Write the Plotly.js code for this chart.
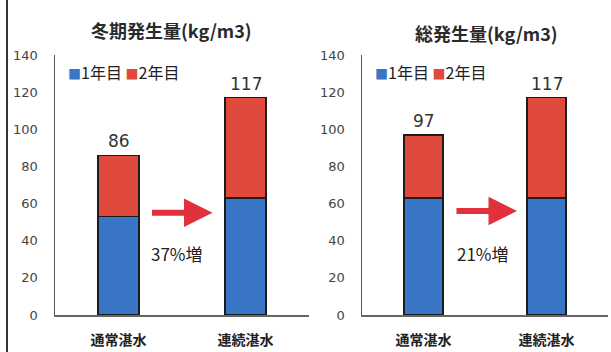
<!DOCTYPE html>
<html>
<head>
<meta charset="utf-8">
<script src="https://cdn.plot.ly/plotly-3.0.1.min.js"></script>
<style>
  html, body { margin: 0; padding: 0; background: #ffffff; }
  #chart { width: 611px; height: 352px; }
</style>
</head>
<body>
<div id="chart"></div>
<script>
// Irrigation method categories
const categories = ['通常湛水', '連続湛水'];
const seriesNames = ['1年目', '2年目'];

// Winter generation (kg/m3): first-year part and stated totals
const winterYear1 = [53, 63];
const winterTotal = [86, 117];

// Total generation (kg/m3): first-year part and stated totals
const overallYear1 = [63, 63];
const overallTotal = [97, 117];

const panelTitles = ['冬期発生量(kg/m3)', '総発生量(kg/m3)'];
const increaseLabels = ['37%増', '21%増'];
const yTickValues = [0, 20, 40, 60, 80, 100, 120, 140];

// Second-year part is what remains of each total
const winterYear2 = winterTotal.map((t, i) => t - winterYear1[i]);
const overallYear2 = overallTotal.map((t, i) => t - overallYear1[i]);

const BLUE = '#3a76c6';
const RED = '#df4a3c';
const OUTLINE = '#1c1c1c';
const CJK = '"Noto Sans CJK JP", "Noto Sans", sans-serif';

function barTrace(x, y, color, name, xa, ya) {
  return {
    type: 'bar', x: x, y: y, name: name,
    xaxis: xa, yaxis: ya,
    marker: { color: color, line: { color: OUTLINE, width: 1.5 } },
    hoverinfo: 'skip', showlegend: false
  };
}

const traces = [
  barTrace(categories, winterYear1, BLUE, seriesNames[0], 'x', 'y'),
  barTrace(categories, winterYear2, RED, seriesNames[1], 'x', 'y'),
  barTrace(categories, overallYear1, BLUE, seriesNames[0], 'x2', 'y2'),
  barTrace(categories, overallYear2, RED, seriesNames[1], 'x2', 'y2')
];

const yDomain = [37 / 352, 297 / 352];

function yAxis(anchor) {
  return {
    anchor: anchor, domain: yDomain, range: [0, 140],
    tickvals: yTickValues, showgrid: false, zeroline: false,
    showline: true, linecolor: '#5a5a5a', linewidth: 1.5,
    ticks: '', ticklabelstandoff: 13,
    tickfont: { family: '"DejaVu Sans", sans-serif', size: 13, color: '#444' }
  };
}

function xAxis(anchor, domain) {
  return {
    anchor: anchor, domain: domain, range: [-0.5, 1.5],
    showgrid: false, zeroline: false,
    showline: true, linecolor: '#666', linewidth: 2,
    ticks: '', ticklabelstandoff: 11,
    tickfont: { family: CJK, size: 14, color: '#222', weight: 'bold' }
  };
}

// Legend row drawn as text with coloured square glyphs
function legendText() {
  return '<span style="color:' + BLUE + ';font-size:13px">■</span>' + seriesNames[0] +
         '&nbsp;<span style="color:' + RED + ';font-size:13px">■</span>' + seriesNames[1];
}

const annotations = [];

// Panel titles
[[171, 30], [486, 33]].forEach((p, i) => {
  annotations.push({
    xref: 'paper', yref: 'paper', x: p[0] / 611, y: (352 - p[1]) / 352,
    xanchor: 'center', yanchor: 'middle', showarrow: false,
    text: panelTitles[i],
    font: { family: CJK, size: 18, color: '#2a2a2a', weight: 'bold' }
  });
});

// Legends
[66, 373].forEach(px => {
  annotations.push({
    xref: 'paper', yref: 'paper', x: px / 611, y: (352 - 72) / 352,
    xanchor: 'left', yanchor: 'middle', showarrow: false,
    text: legendText(),
    font: { family: CJK, size: 16, color: '#222' }
  });
});

// Totals above each stacked bar
[['x', 'y', winterTotal], ['x2', 'y2', overallTotal]].forEach(([xa, ya, totals]) => {
  categories.forEach((c, i) => {
    annotations.push({
      xref: xa, yref: ya, x: c, y: totals[i],
      xanchor: 'center', yanchor: 'bottom', yshift: 2, showarrow: false,
      text: String(totals[i]),
      font: { family: '"DejaVu Sans", sans-serif', size: 17, color: '#333' }
    });
  });
});

// Increase arrows and their labels
[['x', 'y', 0.74, 55, 0.46], ['x2', 'y2', 0.76, 56, 0.48]].forEach(([xa, ya, hx, hy, tx], i) => {
  annotations.push({
    xref: xa, yref: ya, x: hx, y: hy, ax: -62, ay: 0,
    showarrow: true, arrowhead: 2, arrowsize: 0.95, arrowwidth: 6,
    arrowcolor: '#e2303c', text: ''
  });
  annotations.push({
    xref: xa, yref: ya, x: tx, y: 33,
    xanchor: 'center', yanchor: 'middle', showarrow: false,
    text: increaseLabels[i],
    font: { family: CJK, size: 17, color: '#222' }
  });
});

const layout = {
  width: 611, height: 352,
  margin: { l: 0, r: 0, t: 0, b: 0 },
  paper_bgcolor: '#ffffff', plot_bgcolor: '#ffffff',
  barmode: 'stack', bargap: 0.68,
  showlegend: false,
  xaxis: xAxis('y', [55 / 611, 309 / 611]),
  yaxis: yAxis('x'),
  xaxis2: xAxis('y2', [362 / 611, 608 / 611]),
  yaxis2: yAxis('x2'),
  annotations: annotations,
  shapes: [
    { type: 'line', xref: 'paper', yref: 'paper', x0: 7 / 611, x1: 7 / 611, y0: 0, y1: 1,
      line: { color: '#333', width: 2 } }
  ]
};

Plotly.newPlot('chart', traces, layout, { staticPlot: true, displayModeBar: false });
</script>
</body>
</html>
